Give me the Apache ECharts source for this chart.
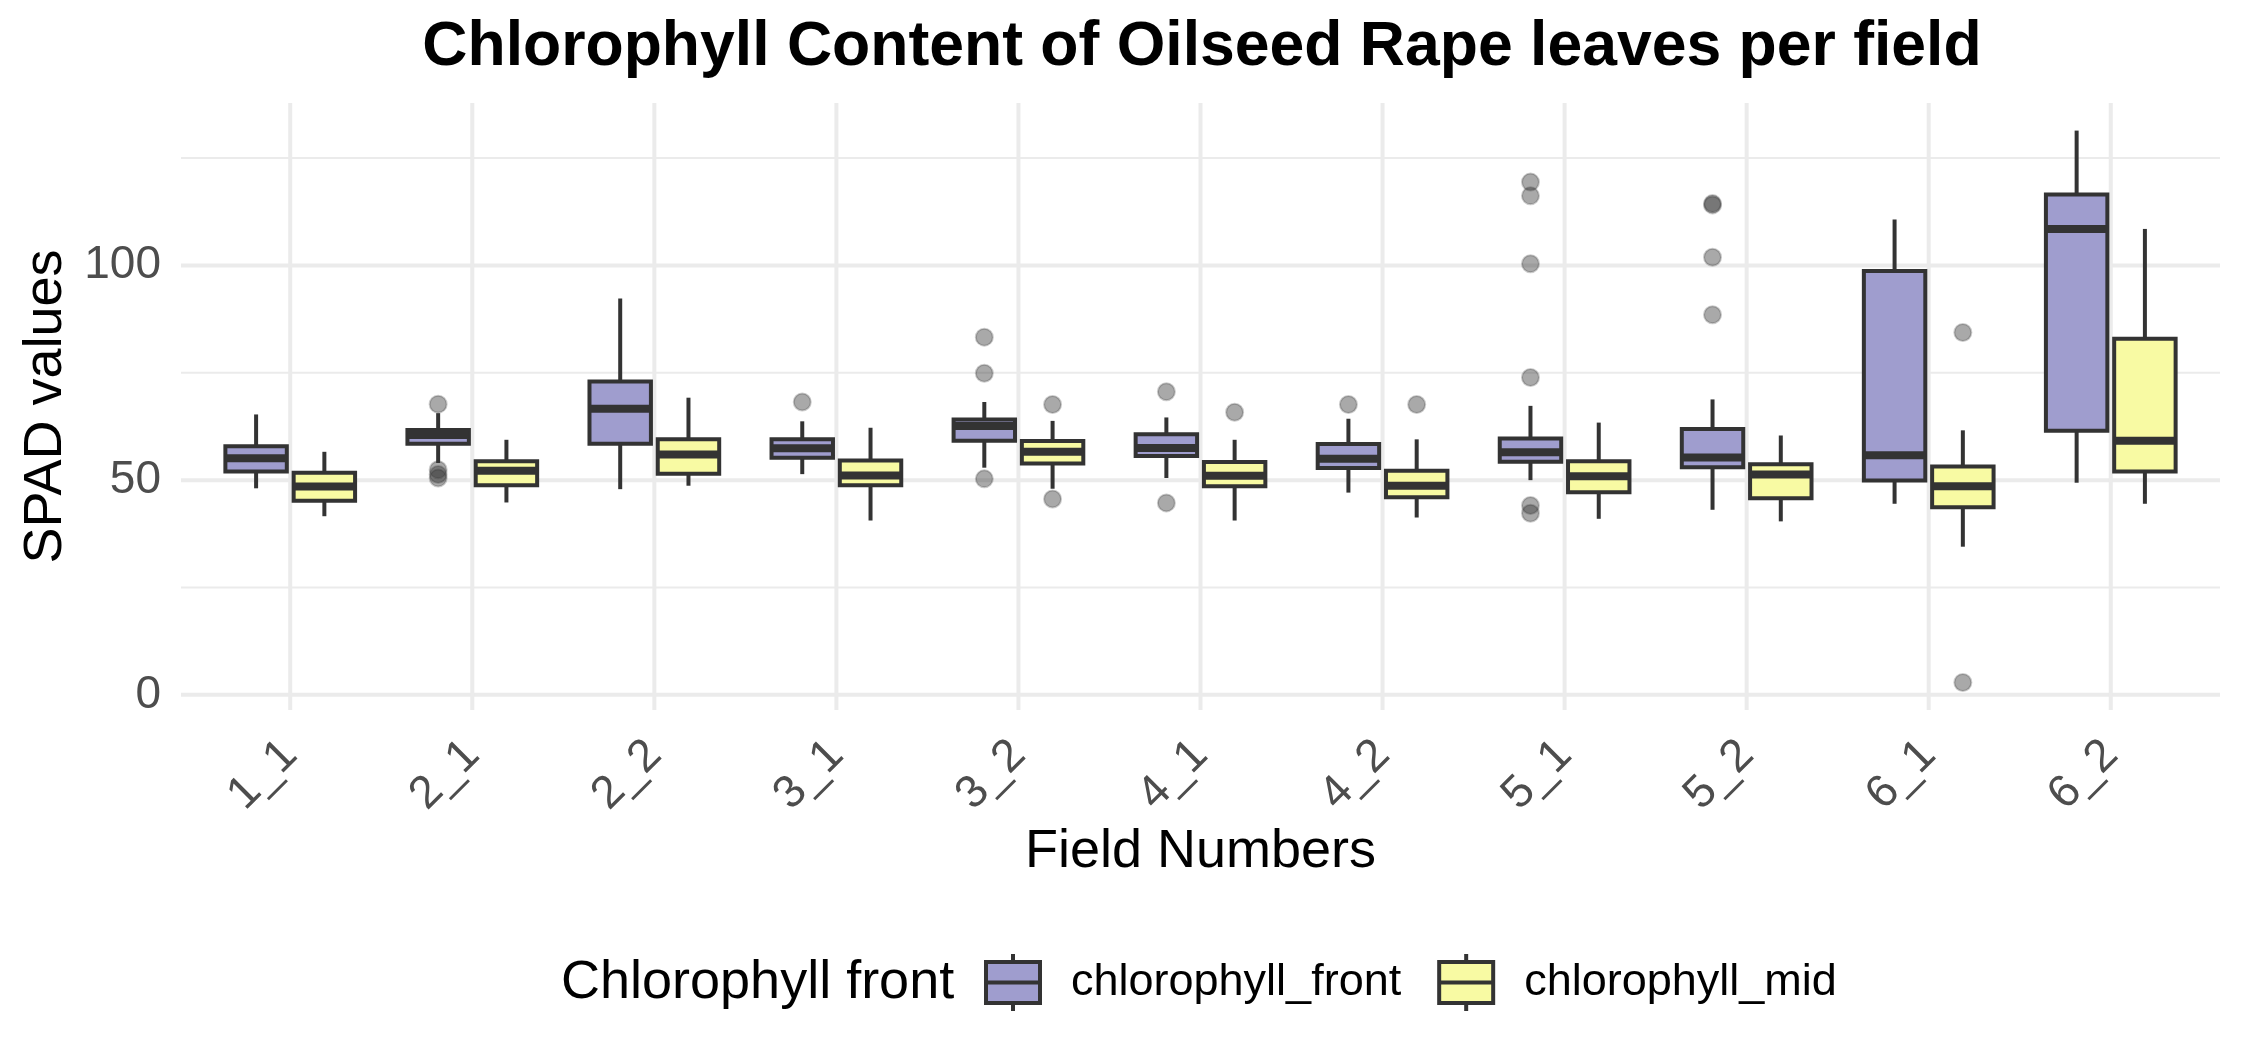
<!DOCTYPE html>
<html>
<head>
<meta charset="utf-8">
<script src="https://cdn.jsdelivr.net/npm/echarts@6/dist/echarts.min.js"></script>
<style>
html,body{margin:0;padding:0;background:#fff;}
#chart{width:2244px;height:1062px;}
</style>
</head>
<body>
<div id="chart"></div>
<script>
const categories = ['1_1','2_1','2_2','3_1','3_2','4_1','4_2','5_1','5_2','6_1','6_2'];
// [lower whisker, Q1, median, Q3, upper whisker]
const frontStats = [
  [48.1, 52.0, 55.1, 57.9, 65.3],
  [54.0, 58.5, 60.5, 61.7, 65.6],
  [47.9, 58.5, 66.6, 73.0, 92.3],
  [51.4, 55.2, 57.4, 59.5, 63.7],
  [52.9, 59.2, 62.6, 64.1, 68.2],
  [50.5, 55.6, 57.5, 60.7, 64.6],
  [47.1, 52.8, 55.0, 58.4, 64.3],
  [50.0, 54.3, 56.5, 59.7, 67.3],
  [43.1, 53.0, 55.3, 61.9, 68.8],
  [44.5, 49.9, 55.8, 98.7, 110.7],
  [49.4, 61.5, 108.5, 116.5, 131.4]
];
const midStats = [
  [41.6, 45.2, 48.5, 51.7, 56.6],
  [44.8, 48.8, 52.2, 54.4, 59.4],
  [48.7, 51.5, 56.0, 59.5, 69.2],
  [40.6, 48.8, 51.1, 54.6, 62.2],
  [48.0, 53.9, 56.6, 59.1, 63.8],
  [40.6, 48.6, 51.0, 54.2, 59.4],
  [41.3, 46.0, 48.7, 52.2, 59.5],
  [41.0, 47.2, 50.9, 54.4, 63.4],
  [40.4, 45.8, 51.3, 53.7, 60.4],
  [34.5, 43.7, 48.6, 53.2, 61.6],
  [44.5, 52.0, 59.2, 82.9, 108.5]
];
// outliers: [category, value]
const frontOutliers = [
  ['2_1', 67.7], ['2_1', 52.4], ['2_1', 51.3], ['2_1', 50.5],
  ['3_1', 68.2],
  ['3_2', 83.3], ['3_2', 74.9], ['3_2', 50.3],
  ['4_1', 70.6], ['4_1', 44.7],
  ['4_2', 67.6],
  ['5_1', 119.4], ['5_1', 116.2], ['5_1', 100.4], ['5_1', 73.9], ['5_1', 44.1], ['5_1', 42.3],
  ['5_2', 114.4], ['5_2', 114.1], ['5_2', 101.9], ['5_2', 88.5]
];
const midOutliers = [
  ['3_2', 67.6], ['3_2', 45.6],
  ['4_1', 65.8],
  ['4_2', 67.6],
  ['6_1', 84.4], ['6_1', 2.9]
];
const yMajorTicks = [0, 50, 100];
const yMinorTicks = [25, 75, 125];
const seriesNames = ['chlorophyll_front', 'chlorophyll_mid'];
const legendTitle = 'Chlorophyll front';

const FONT = "'Liberation Sans', Arial, Helvetica, sans-serif";
const colors = ['#9F9DCE', '#F8FAA3'];
const dark = '#333333';
const DODGE = 0.1875;
const BOXW = 0.3375;

// ggplot-like expansion of y range (5%)
const allVals = [];
frontStats.concat(midStats).forEach(s => allVals.push(s[0], s[4]));
frontOutliers.concat(midOutliers).forEach(o => allVals.push(o[1]));
const dMin = Math.min(...allVals), dMax = Math.max(...allVals);
const yMin = dMin - 0.05 * (dMax - dMin), yMax = dMax + 0.05 * (dMax - dMin);

function boxData(stats) {
  return stats.map((s, i) => [i, s[0], s[1], s[2], s[3], s[4]]);
}
function outData(outs) {
  return outs.map(o => [categories.indexOf(o[0]), o[1]]);
}
function makeBoxRender(offset, fill) {
  return function (params, api) {
    const x = api.value(0) + offset;
    const pLow = api.coord([x, api.value(1)]);
    const pQ1 = api.coord([x, api.value(2)]);
    const pMed = api.coord([x, api.value(3)]);
    const pQ3 = api.coord([x, api.value(4)]);
    const pHigh = api.coord([x, api.value(5)]);
    const hw = api.size([BOXW, 0])[0] / 2;
    const cx = pMed[0];
    return {
      type: 'group',
      children: [
        {type: 'line', shape: {x1: cx, y1: pHigh[1], x2: cx, y2: pQ3[1]}, style: {stroke: dark, lineWidth: 4}},
        {type: 'line', shape: {x1: cx, y1: pQ1[1], x2: cx, y2: pLow[1]}, style: {stroke: dark, lineWidth: 4}},
        {type: 'rect', shape: {x: cx - hw, y: pQ3[1], width: 2 * hw, height: pQ1[1] - pQ3[1]},
          style: {fill: fill, stroke: dark, lineWidth: 4}},
        {type: 'line', shape: {x1: cx - hw, y1: pMed[1], x2: cx + hw, y2: pMed[1]}, style: {stroke: dark, lineWidth: 8}}
      ]
    };
  };
}
function makeOutRender(offset) {
  return function (params, api) {
    const p = api.coord([api.value(0) + offset, api.value(1)]);
    return {type: 'circle', shape: {cx: p[0], cy: p[1], r: 8.5},
      style: {fill: 'rgba(51,51,51,0.42)', stroke: 'rgba(51,51,51,0.25)', lineWidth: 2}};
  };
}

const hGrid = yMajorTicks.map(v => [0, v, 4]).concat(yMinorTicks.map(v => [0, v, 2]));
const vGrid = categories.map((c, i) => [i, 0, 4]);

const iconPath = 'path://M0,8L54,8L54,28.5L0,28.5Z M0,28.5L54,28.5L54,49L0,49Z M27,0L27,8 M27,49L27,57';

const chart = echarts.init(document.getElementById('chart'), null, {renderer: 'canvas'});
chart.setOption({
  backgroundColor: '#ffffff',
  animation: false,
  title: [
    {text: 'Chlorophyll Content of Oilseed Rape leaves per field', left: 1202, top: 16, textAlign: 'center', padding: 0,
      textStyle: {fontFamily: FONT, fontSize: 62.5, fontWeight: 'bold', color: '#000'}},
    {text: legendTitle, left: 561, top: 956, padding: 0,
      textStyle: {fontFamily: FONT, fontSize: 54, fontWeight: 'normal', color: '#000'}}
  ],
  legend: {
    left: 984, top: 952, padding: 0,
    itemWidth: 54, itemHeight: 57, itemGap: 36,
    data: seriesNames.map((n, i) => ({name: n, icon: iconPath,
      itemStyle: {color: colors[i], borderColor: dark, borderWidth: 4}})),
    textStyle: {fontFamily: FONT, fontSize: 45, color: '#000', padding: [0, 0, 0, 26]},
    selectedMode: false
  },
  grid: {left: 181, right: 24, top: 103, bottom: 352, containLabel: false},
  xAxis: {
    type: 'value', min: -0.6, max: 10.6,
    axisLine: {show: false}, axisTick: {show: false}, splitLine: {show: false},
    axisLabel: {
      customValues: categories.map((c, i) => i),
      formatter: v => categories[Math.round(v)],
      rotate: 45, margin: 38, fontSize: 46, color: '#4D4D4D', fontFamily: FONT
    },
    name: 'Field Numbers', nameLocation: 'middle', nameGap: 110,
    nameTextStyle: {fontFamily: FONT, fontSize: 54, color: '#000'}
  },
  yAxis: {
    type: 'value', min: yMin, max: yMax,
    axisLine: {show: false}, axisTick: {show: false}, splitLine: {show: false},
    axisLabel: {customValues: yMajorTicks, margin: 20, fontSize: 46, color: '#4D4D4D', fontFamily: FONT},
    name: 'SPAD values', nameLocation: 'middle', nameGap: 104, nameRotate: 90,
    nameTextStyle: {fontFamily: FONT, fontSize: 54, color: '#000'}
  },
  series: [
    {type: 'custom', name: 'hgrid', silent: true, z: 0, data: hGrid, encode: {x: 0, y: 1},
      renderItem: (params, api) => {
        const cs = params.coordSys;
        const y = api.coord([0, api.value(1)])[1];
        return {type: 'line', shape: {x1: cs.x, y1: y, x2: cs.x + cs.width, y2: y},
          style: {stroke: '#EBEBEB', lineWidth: api.value(2)}};
      }},
    {type: 'custom', name: 'vgrid', silent: true, z: 0, data: vGrid, encode: {x: 0, y: 1},
      renderItem: (params, api) => {
        const cs = params.coordSys;
        const x = api.coord([api.value(0), 0])[0];
        return {type: 'line', shape: {x1: x, y1: cs.y, x2: x, y2: cs.y + cs.height},
          style: {stroke: '#EBEBEB', lineWidth: api.value(2)}};
      }},
    {type: 'custom', name: seriesNames[0], z: 2, data: boxData(frontStats), encode: {x: 0, y: [1, 2, 3, 4, 5]},
      itemStyle: {color: colors[0], borderColor: dark, borderWidth: 4},
      renderItem: makeBoxRender(-DODGE, colors[0])},
    {type: 'custom', name: seriesNames[1], z: 2, data: boxData(midStats), encode: {x: 0, y: [1, 2, 3, 4, 5]},
      itemStyle: {color: colors[1], borderColor: dark, borderWidth: 4},
      renderItem: makeBoxRender(DODGE, colors[1])},
    {type: 'custom', name: 'front_outliers', z: 3, data: outData(frontOutliers), encode: {x: 0, y: 1},
      renderItem: makeOutRender(-DODGE)},
    {type: 'custom', name: 'mid_outliers', z: 3, data: outData(midOutliers), encode: {x: 0, y: 1},
      renderItem: makeOutRender(DODGE)}
  ]
});
</script>
</body>
</html>
